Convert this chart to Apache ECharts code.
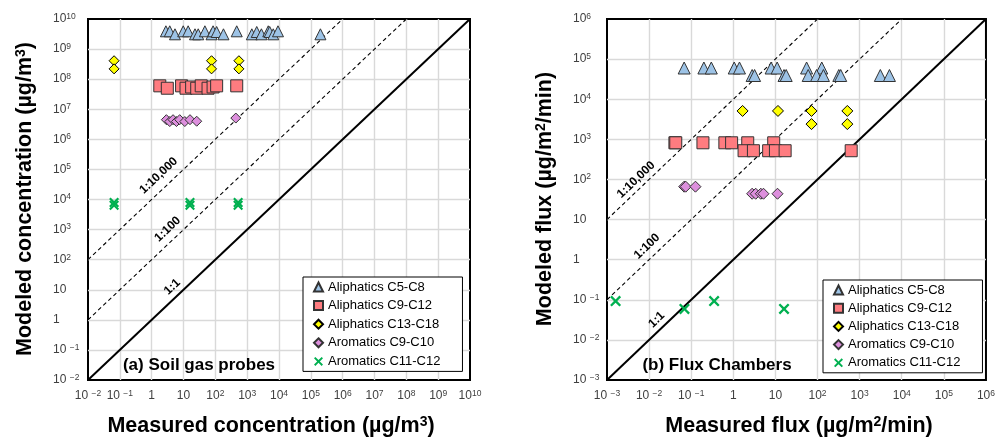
<!DOCTYPE html>
<html><head><meta charset="utf-8">
<script src="https://cdn.jsdelivr.net/npm/echarts@6/dist/echarts.min.js"></script>
<style>html,body{margin:0;padding:0;background:#fff}#c{width:998px;height:439px}</style>
</head><body><div id="c"></div>
<script>
// ---------- DATA ----------
const seriesNames = ['Aliphatics C5-C8','Aliphatics C9-C12','Aliphatics C13-C18','Aromatics C9-C10','Aromatics C11-C12'];

// (a) Soil gas probes: [measured, modeled] in µg/m3
const soilC5C8 = [[2.8,3.9e9],[3.7,3.9e9],[5.4,3.1e9],[9.8,3.9e9],[14,3.9e9],[23,3.1e9],[29,3.1e9],[47,3.9e9],[76,3.1e9],[85,3.9e9],[110,3.7e9],[180,3.1e9],[470,3.9e9],[1400,3.1e9],[2000,3.7e9],[2800,3.1e9],[4600,3.9e9],[5100,3.7e9],[6600,3.1e9],[9300,3.9e9],[2.0e5,3.1e9]];
const soilC9C12 = [[1.8,6.0e7],[3.1,5.0e7],[8.7,6.0e7],[12,5.0e7],[18,5.5e7],[26,5.0e7],[36,6.0e7],[59,5.0e7],[85,5.5e7],[110,6.0e7],[470,6.0e7]];
const soilC13C18 = [[0.066,4.1e8],[0.066,2.2e8],[76,4.1e8],[76,2.2e8],[550,4.1e8],[550,2.2e8]];
const soilC9C10 = [[2.9,4.5e6],[3.7,3.9e6],[4.7,4.5e6],[6.0,3.9e6],[7.6,4.5e6],[11,3.9e6],[16,4.5e6],[26,4.0e6],[440,5.1e6]];
const soilC11C12 = [[0.066,6.5e3],[0.066,8.0e3],[16,6.5e3],[16,8.0e3],[520,6.5e3],[520,8.0e3]];

// (b) Flux chambers: [measured, modeled] in µg/m2/min
const fluxC5C8 = [[0.068,6.0e4],[0.20,6.0e4],[0.30,6.0e4],[1.05,6.0e4],[1.4,6.0e4],[7.9,6.0e4],[11,6.0e4],[55,6.0e4],[126,6.0e4],
  [2.8,3.9e4],[3.2,3.9e4],[16,3.9e4],[18,3.9e4],[60,3.9e4],[95,3.9e4],[138,3.9e4],[320,3.9e4],[355,3.9e4],[3100,3.9e4],[5100,3.9e4]];
const fluxC9C12 = [[0.041,820],[0.043,820],[0.19,820],[0.63,820],[0.91,820],[2.2,820],[9.1,820],
  [1.8,520],[3.0,520],[6.9,520],[10,520],[17,520],[630,520]];
const fluxC13C18 = [[1.66,5.1e3],[11.5,5.1e3],[72,5.1e3],[72,2.4e3],[510,5.1e3],[510,2.4e3]];
const fluxC9C10 = [[0.068,66],[0.074,66],[0.126,66],[2.8,44],[3.4,44],[4.5,44],[5.2,44],[11.2,44]];
const fluxC11C12 = [[0.0016,0.093],[0.069,0.059],[0.35,0.093],[16,0.059]];

// axis ranges (exponents of ten)
const soilRange = [-2, 10];
const fluxRange = [-3, 6];
// ratio lines: modeled = ratio * measured
const ratioLines = [{label:'1:1', ratio:1}, {label:'1:100', ratio:100}, {label:'1:10,000', ratio:1e4}];
// label anchor points [measured, modeled]
const soilRatioLabelPos = {'1:1':[4.44,12.4], '1:100':[3.2,1020], '1:10,000':[1.66,6.2e4]};
const fluxRatioLabelPos = {'1:1':[0.0151,0.0316], '1:100':[0.0089,2.14], '1:10,000':[0.0049,98]};

// ---------- STYLE ----------
const FONT = 'Liberation Sans, Arial, sans-serif';
const X_PATH = 'path://M0,1.5L1.5,0L5,3.5L8.5,0L10,1.5L6.5,5L10,8.5L8.5,10L5,6.5L1.5,10L0,8.5L3.5,5Z';
const styles = [
  {symbol:'triangle', color:'#9DC3E6', border:'#333', sizeA:[11,11], sizeB:[12,12]},
  {symbol:'rect', color:'#FF7C80', border:'#333', sizeA:12, sizeB:12},
  {symbol:'diamond', color:'#FFFF00', border:'#000', sizeA:[10,10], sizeB:[11,11]},
  {symbol:'diamond', color:'#DD8FDD', border:'#333', sizeA:[10,10], sizeB:[11,11]},
  {symbol:X_PATH, color:'#00B050', border:null, sizeA:10, sizeB:11}
];

function powLabel(v){
  const e = Math.round(Math.log10(v));
  if (e === 0) return '1';
  if (e === 1) return '10';
  if (e < 0) return '10 {s|\u2212' + (-e) + '}';
  return '10{s|' + e + '}';
}

function makeAxis(gridIndex, range, isY){
  const ax = {
    type:'log', logBase:10, gridIndex,
    min: Math.pow(10, range[0]), max: Math.pow(10, range[1]),
    splitNumber: range[1]-range[0], interval: 1,
    axisLine:{show:false}, axisTick:{show:false},
    splitLine:{show:true, showMinLine:false, showMaxLine:false, lineStyle:{color:'#d9d9d9', width:1.4}},
    axisLabel:{formatter:powLabel, fontSize:12, color:'#404040', fontFamily:FONT, lineHeight:14,
      rich:{s:{fontSize:8.5, color:'#404040', fontFamily:FONT, verticalAlign:'top', lineHeight:8}}}
  };
  if (isY) { ax.axisLabel.align = 'left'; ax.axisLabel.margin = gridIndex === 0 ? 35 : 34; }
  else { ax.axisLabel.margin = 9; }
  return ax;
}

const soilData = [soilC5C8, soilC9C12, soilC13C18, soilC9C10, soilC11C12];
const fluxData = [fluxC5C8, fluxC9C12, fluxC13C18, fluxC9C10, fluxC11C12];

const series = [];
function addRatioLines(gridIndex, range){
  const lo = Math.pow(10, range[0]), hi = Math.pow(10, range[1]);
  ratioLines.forEach(r => {
    series.push({
      type:'line', xAxisIndex:gridIndex, yAxisIndex:gridIndex, silent:true, z:1,
      showSymbol:false, symbol:'none', animation:false,
      data:[[lo, lo*r.ratio],[hi/r.ratio, hi]],
      lineStyle: r.ratio === 1 ? {color:'#000', width:2} : {color:'#000', width:1.1, type:[4,3]}
    });
  });
}
addRatioLines(0, soilRange);
addRatioLines(1, fluxRange);

function addScatter(gridIndex, dataSets, sizeKey){
  dataSets.forEach((d, i) => {
    const st = styles[i];
    series.push({
      type:'scatter', name:seriesNames[i], xAxisIndex:gridIndex, yAxisIndex:gridIndex, z:3,
      symbol:st.symbol, symbolSize:st[sizeKey], data:d, animation:false,
      itemStyle: st.border ? {color:st.color, borderColor:st.border, borderWidth:1, opacity:1} : {color:st.color, opacity:1}
    });
  });
}
addScatter(0, soilData, 'sizeA');
addScatter(1, fluxData, 'sizeB');

function makeLegend(left, top, gap){
  return {
    orient:'vertical', left, top, selectedMode:false,
    data: seriesNames.map((n,i)=>({name:n, icon:styles[i].symbol})),
    itemWidth:9, itemHeight:9, itemGap:gap, padding:[2,22,2,10],
    borderColor:'#000', borderWidth:1, backgroundColor:'#fff', borderRadius:0,
    textStyle:{fontSize:13, color:'#000', fontFamily:FONT, lineHeight:16}
  };
}

const chart = echarts.init(document.getElementById('c'), null, {renderer:'canvas'});
const option = {
  animation:false,
  backgroundColor:'#fff',
  grid:[
    {left:88, top:19, width:382, height:361, show:true, borderColor:'#000', borderWidth:2, backgroundColor:'transparent', containLabel:false},
    {left:607, top:19, width:382, height:361, show:true, borderColor:'#000', borderWidth:2, backgroundColor:'transparent', containLabel:false}
  ],
  xAxis:[makeAxis(0, soilRange, false), makeAxis(1, fluxRange, false)],
  yAxis:[makeAxis(0, soilRange, true), makeAxis(1, fluxRange, true)],
  legend:[makeLegend(303, 277, 2.6), makeLegend(823, 280, 2.2)],
  series
};
chart.setOption(option);

// ---------- TEXT (titles, panel labels, ratio labels) ----------
const titleStyle = {fontSize:21.5, fontWeight:'bold', fontFamily:FONT, fill:'#000', align:'center', verticalAlign:'middle', textAlign:'center', textVerticalAlign:'middle',
  rich:{s:{fontSize:14, fontWeight:'bold', fontFamily:FONT, fill:'#000', verticalAlign:'top', lineHeight:12}}};
const graphics = [
  {type:'text', x:271, y:426, style:Object.assign({text:'Measured concentration (\u00b5g/m{s|3})'}, titleStyle)},
  {type:'text', x:799, y:426, style:Object.assign({text:'Measured flux (\u00b5g/m{s|2}/min)'}, titleStyle)},
  {type:'text', x:25, y:199, rotation:Math.PI/2, style:Object.assign({text:'Modeled concentration (\u00b5g/m{s|3})'}, titleStyle)},
  {type:'text', x:545, y:199, rotation:Math.PI/2, style:Object.assign({text:'Modeled flux (\u00b5g/m{s|2}/min)'}, titleStyle)},
  {type:'text', x:199, y:365, z:10, style:{text:'(a) Soil gas probes', fontSize:17, fontWeight:'bold', fontFamily:FONT, fill:'#000', textAlign:'center', textVerticalAlign:'middle'}},
  {type:'text', x:717, y:365, z:10, style:{text:'(b) Flux Chambers', fontSize:17, fontWeight:'bold', fontFamily:FONT, fill:'#000', textAlign:'center', textVerticalAlign:'middle'}}
];
function addRatioLabels(gridIndex, range, posMap){
  const lo = Math.pow(10, range[0]), hi = Math.pow(10, range[1]);
  const p0 = chart.convertToPixel({gridIndex}, [lo, lo]);
  const p1 = chart.convertToPixel({gridIndex}, [hi, hi]);
  const ang = Math.atan2(p0[1]-p1[1], p1[0]-p0[0]);
  ratioLines.forEach(r => {
    const p = chart.convertToPixel({gridIndex}, posMap[r.label]);
    graphics.push({type:'text', x:p[0], y:p[1], rotation:ang, z:10,
      style:{text:r.label, fontSize:12, fontWeight:'bold', fontFamily:FONT, fill:'#000', textAlign:'center', textVerticalAlign:'middle'}});
  });
}
addRatioLabels(0, soilRange, soilRatioLabelPos);
addRatioLabels(1, fluxRange, fluxRatioLabelPos);
chart.setOption({graphic:graphics});
</script>
</body></html>
